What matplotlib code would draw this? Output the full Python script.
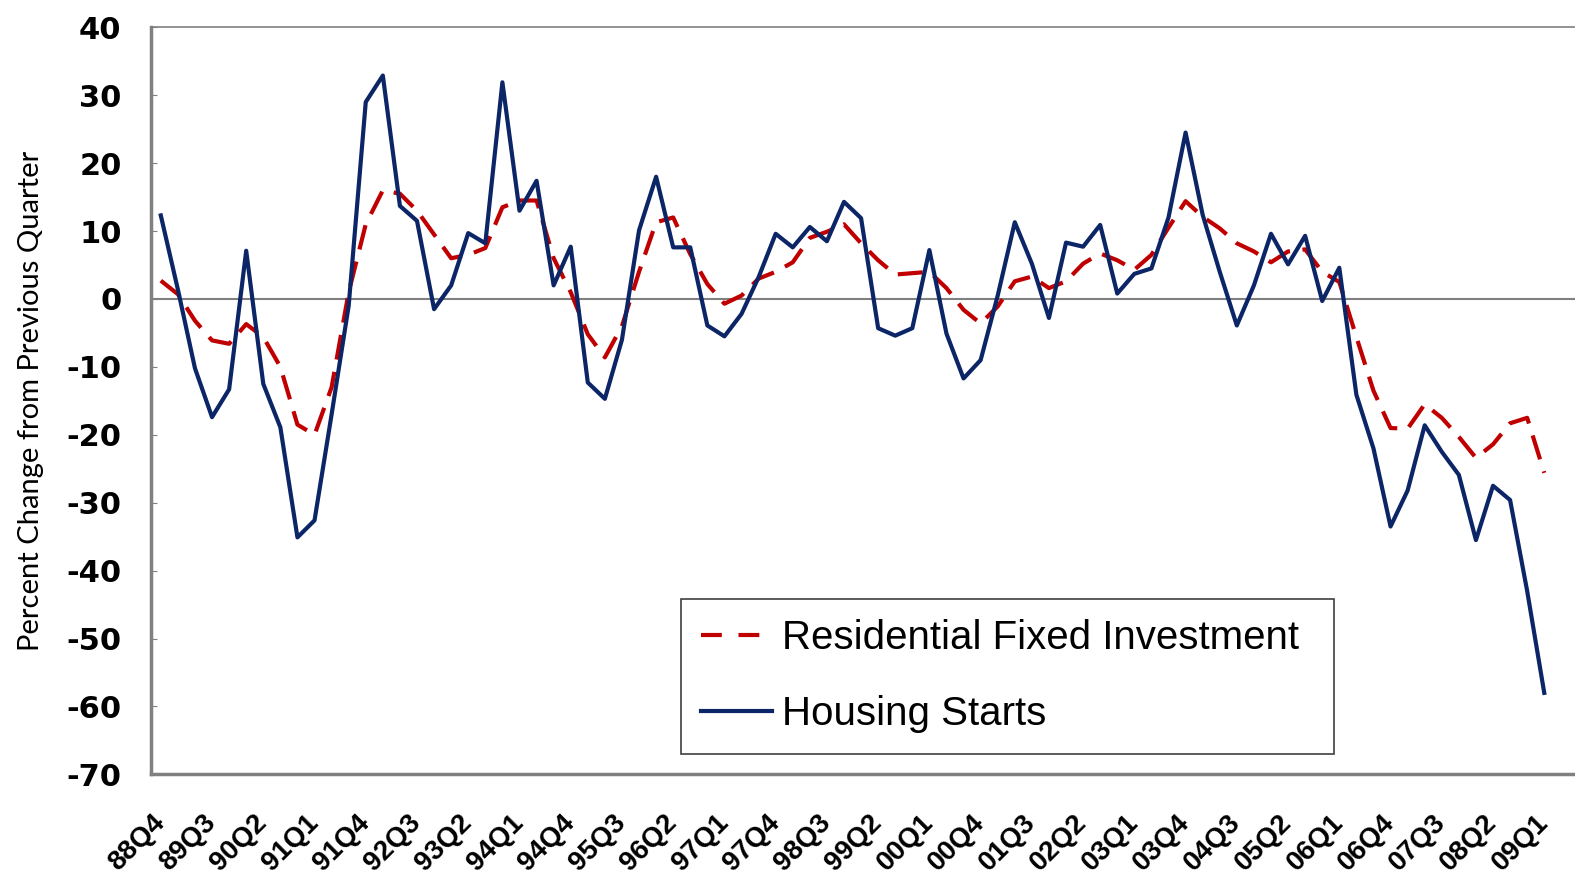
import matplotlib.pyplot as plt
from matplotlib.lines import Line2D

plt.rcParams["axes.unicode_minus"] = False

# Quarterly percent changes, 88Q4 .. 09Q1 (82 quarters)
housing_starts = [
    12.3, 1.4, -10.2, -17.4, -13.3, 7.1, -12.5, -18.9, -35.1, -32.6,
    -17.0, -1.0, 29.0, 32.9, 13.7, 11.5, -1.5, 2.0, 9.7, 8.2,
    31.9, 13.0, 17.4, 2.0, 7.7, -12.3, -14.7, -6.0, 10.1, 18.0,
    7.6, 7.6, -3.9, -5.5, -2.2, 3.2, 9.6, 7.6, 10.6, 8.5,
    14.3, 11.9, -4.3, -5.4, -4.3, 7.2, -5.1, -11.7, -9.0, 0.5,
    11.3, 5.2, -2.8, 8.3, 7.7, 10.9, 0.8, 3.7, 4.5, 12.0,
    24.5, 12.4, 4.0, -3.9, 2.0, 9.6, 5.1, 9.3, -0.3, 4.6,
    -14.1, -22.0, -33.5, -28.2, -18.6, -22.5, -25.9, -35.5, -27.5, -29.6,
    -43.0, -58.0,
]
res_investment = [
    2.7, 0.7, -3.2, -6.1, -6.6, -3.7, -5.6, -10.0, -18.5, -20.0,
    -13.0, 1.0, 11.0, 16.0, 15.5, 13.0, 9.5, 6.0, 6.5, 7.5,
    13.5, 14.5, 14.5, 6.0, 1.0, -5.2, -8.6, -4.0, 4.0, 11.3,
    12.0, 6.6, 2.2, -0.7, 0.5, 3.0, 4.0, 5.4, 9.0, 9.9,
    11.0, 8.2, 5.7, 3.6, 3.8, 4.0, 1.6, -1.6, -3.6, -1.1,
    2.6, 3.3, 1.6, 2.6, 5.2, 6.7, 5.7, 4.3, 6.5, 10.5,
    14.4, 12.1, 10.4, 8.2, 7.0, 5.4, 7.0, 7.3, 4.0, 2.5,
    -5.6, -13.5, -19.0, -19.1, -15.5, -17.5, -20.3, -23.4, -21.4, -18.3,
    -17.5, -25.6,
]
tick_labels = [
    "88Q4", "89Q3", "90Q2", "91Q1", "91Q4", "92Q3", "93Q2", "94Q1",
    "94Q4", "95Q3", "96Q2", "97Q1", "97Q4", "98Q3", "99Q2", "00Q1",
    "00Q4", "01Q3", "02Q2", "03Q1", "03Q4", "04Q3", "05Q2", "06Q1",
    "06Q4", "07Q3", "08Q2", "09Q1",
]

blue = "#0B2566"
red = "#C00000"
grey = "#808080"

x = list(range(len(housing_starts)))

fig = plt.figure(figsize=(15.75, 8.81), dpi=100)
ax = fig.add_axes([0.0957, 0.121, 0.9043, 0.848])

ax.axhline(0, color=grey, lw=1.5, zorder=1)
ax.plot(x, res_investment, color=red, lw=3, dashes=(6, 3), zorder=2)
ax.plot(x, housing_starts, color=blue, lw=3, zorder=3)

ax.set_xlim(-0.59, 82.8)
ax.set_ylim(-70, 40)
ax.set_yticks(range(-70, 41, 10))
ax.set_xticks(x[::3])
ax.set_xticklabels(tick_labels, rotation=45, ha="right", va="center",
                   rotation_mode="anchor", fontsize=20, fontweight="bold",
                   family="Liberation Sans")
for lab in ax.get_yticklabels():
    lab.set_fontsize(22)
    lab.set_fontweight("bold")
    lab.set_family("DejaVu Sans")

ax.tick_params(axis="x", length=0, pad=32)
ax.tick_params(axis="y", direction="in", length=4, color=grey, pad=21)

for side in ["left", "bottom"]:
    ax.spines[side].set_color(grey)
    ax.spines[side].set_linewidth(2.5)
ax.spines["top"].set_color(grey)
ax.spines["top"].set_linewidth(1.2)
ax.spines["right"].set_visible(False)

ax.set_ylabel("Percent Change from Previous Quarter", fontsize=21,
              family=["Lato", "DejaVu Sans"])
ax.yaxis.set_label_coords(-0.075, 0.5)

handles = [
    Line2D([], [], color=red, lw=3, dashes=(5, 4)),
    Line2D([], [], color=blue, lw=3),
]
leg = fig.legend(handles, ["Residential Fixed Investment", "Housing Starts"],
                 loc="upper left", bbox_to_anchor=(0.4324, 0.32, 0.4146, 0.0),
                 mode="expand", fancybox=False, framealpha=1,
                 edgecolor="#404040", prop={"family": "Liberation Sans", "size": 29},
                 handlelength=1.75, handletextpad=0.25, labelspacing=0.95,
                 borderpad=0.5, borderaxespad=0)
leg.get_frame().set_linewidth(1.2)

fig.savefig("out.png", dpi=100)
